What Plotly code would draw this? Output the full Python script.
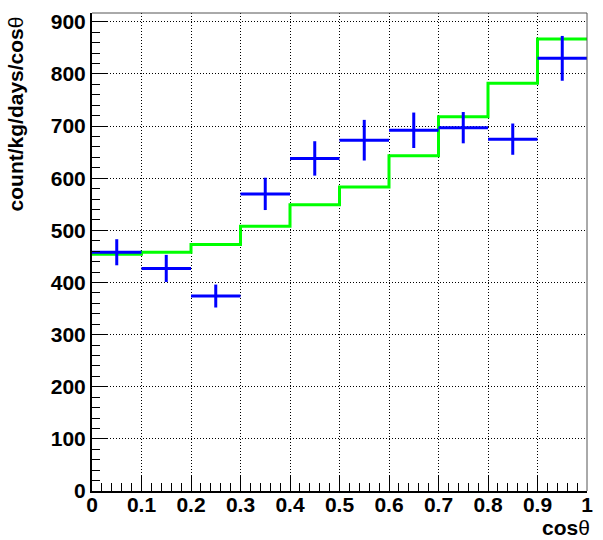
import plotly.graph_objects as go

# ---- data ----
bin_edges = [0.0, 0.1, 0.2, 0.3, 0.4, 0.5, 0.6, 0.7, 0.8, 0.9, 1.0]
data_counts = [458, 427, 374, 570, 638, 673, 692, 697, 675, 830]
data_errors = [25, 26, 22, 31, 33, 39, 34, 30, 30, 43]
mc_counts = [454, 458, 473, 508, 549, 583, 643, 718, 782, 867]
x_title = "<b>cos</b>θ"
y_title = "<b>count/kg/days/cos</b>θ"

centers = [(a + b) / 2 for a, b in zip(bin_edges[:-1], bin_edges[1:])]
half_w = [(b - a) / 2 for a, b in zip(bin_edges[:-1], bin_edges[1:])]

W, H = 603, 540
ml, mr, mt, mb = 92, 10, 13, 49
pw, ph = W - ml - mr, H - mt - mb

fig = go.Figure()

# MC histogram (step)
fig.add_trace(go.Scatter(
    x=bin_edges[:-1] + [bin_edges[-1]],
    y=mc_counts + [mc_counts[-1]],
    mode="lines",
    line=dict(color="#00ff00", width=3, shape="hv"),
    showlegend=False,
))

# Data with error bars
fig.add_trace(go.Scatter(
    x=centers,
    y=data_counts,
    mode="markers",
    marker=dict(size=0.1, color="#0000ff"),
    error_x=dict(type="data", array=half_w, symmetric=True, width=0,
                 thickness=3, color="#0000ff"),
    error_y=dict(type="data", array=data_errors, symmetric=True, width=0,
                 thickness=3, color="#0000ff"),
    showlegend=False,
))

tickfont = dict(family="Liberation Sans", size=21, color="black", weight="bold")

fig.update_xaxes(
    range=[0, 1], tick0=0, dtick=0.1, ticks="inside", ticklen=16, tickwidth=1,
    tickcolor="black", showline=True, linecolor="black", linewidth=2,
    showgrid=True, gridcolor="black", griddash="1px,2px", gridwidth=1,
    zeroline=False, tickfont=tickfont, ticklabelstandoff=-6,
    minor=dict(dtick=0.02, ticks="inside", ticklen=8, tickwidth=1,
               tickcolor="black", showgrid=False),
)
fig.update_yaxes(
    range=[0, 917], tick0=0, dtick=100, ticks="inside", ticklen=16, tickwidth=1,
    tickcolor="black", showline=True, linecolor="black", linewidth=2,
    showgrid=True, gridcolor="black", griddash="1px,2px", gridwidth=1,
    zeroline=False, tickfont=tickfont,
    minor=dict(dtick=20, ticks="inside", ticklen=8, tickwidth=1,
               tickcolor="black", showgrid=False),
)

# top/right frame
fig.add_shape(type="line", xref="paper", yref="paper", x0=0, x1=1, y0=1, y1=1,
              line=dict(color="#555555", width=1))
fig.add_shape(type="line", xref="paper", yref="paper", x0=1, x1=1, y0=0, y1=1,
              line=dict(color="#555555", width=1))

titlefont = dict(family="Liberation Sans", size=21, color="black")
fig.add_annotation(text=x_title, xref="paper", yref="paper", x=1, y=(491 - 514) / ph,
                   xanchor="right", yanchor="top", xshift=5, showarrow=False,
                   font=titlefont)
fig.add_annotation(text=y_title, xref="paper", yref="paper", x=(15 - ml) / pw, y=1,
                   xanchor="center", yanchor="top", yshift=-1, textangle=-90,
                   showarrow=False, font=titlefont)

fig.update_layout(
    width=W, height=H,
    margin=dict(l=ml, r=mr, t=mt, b=mb),
    paper_bgcolor="white", plot_bgcolor="white",
    showlegend=False,
)

fig.write_html("out.html", config={"displayModeBar": False},
               post_script="document.body.style.margin='0';")
